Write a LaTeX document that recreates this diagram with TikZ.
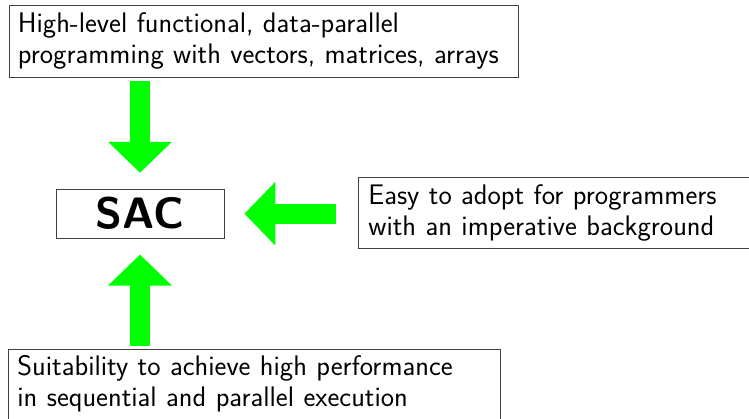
\documentclass[tikz,border=0pt]{standalone}
\usepackage{fontspec}
\setmainfont{Latin Modern Sans}
\usetikzlibrary{arrows.meta}
\definecolor{arrowgreen}{RGB}{0,255,0}
\begin{document}
\begin{tikzpicture}[x=1pt,y=-1pt,
  textbox/.style={draw=black!75, line width=0.8pt, align=left, inner xsep=9pt,
    anchor=north west, font=\fontsize{28.3}{31}\selectfont},
  bigarrow/.style={draw=arrowgreen, line width=20pt,
    -{Triangle[width=62pt,length=31pt]}}]
\useasboundingbox (0,0) rectangle (749,419);
\clip (0,0) rectangle (749,419);

\node[textbox, minimum height=72pt, text width=491.5pt] (top) at (8.5,5)
  {\mbox{High-level functional, data-parallel}\\
   \mbox{programming with vectors, matrices, arrays}};

\node[draw=black!75, line width=0.8pt, minimum width=168pt, minimum height=49pt,
  inner sep=0pt, font=\bfseries\fontsize{44}{48}\selectfont] (sac) at (140,213.7) {SAC};

\node[textbox, inner xsep=10pt, minimum height=71pt, text width=380pt] (right) at (358,177)
  {\mbox{Easy to adopt for programmers}\\
   \mbox{with an imperative background}};

\node[textbox, inner ysep=6pt, text width=474pt, text depth=60pt] (bottom) at (8,349)
  {\mbox{Suitability to achieve high performance}\\
   \mbox{in sequential and parallel execution}};

\draw[bigarrow, shorten <=3pt, shorten >=16pt] (sac.north |- top.south) -- (sac.north);
\draw[bigarrow, shorten <=3pt, shorten >=16pt] (sac.south |- bottom.north) -- (sac.south);
\draw[bigarrow, shorten <=22pt, shorten >=20pt] (sac.east -| right.west) -- (sac.east);
\end{tikzpicture}
\end{document}
